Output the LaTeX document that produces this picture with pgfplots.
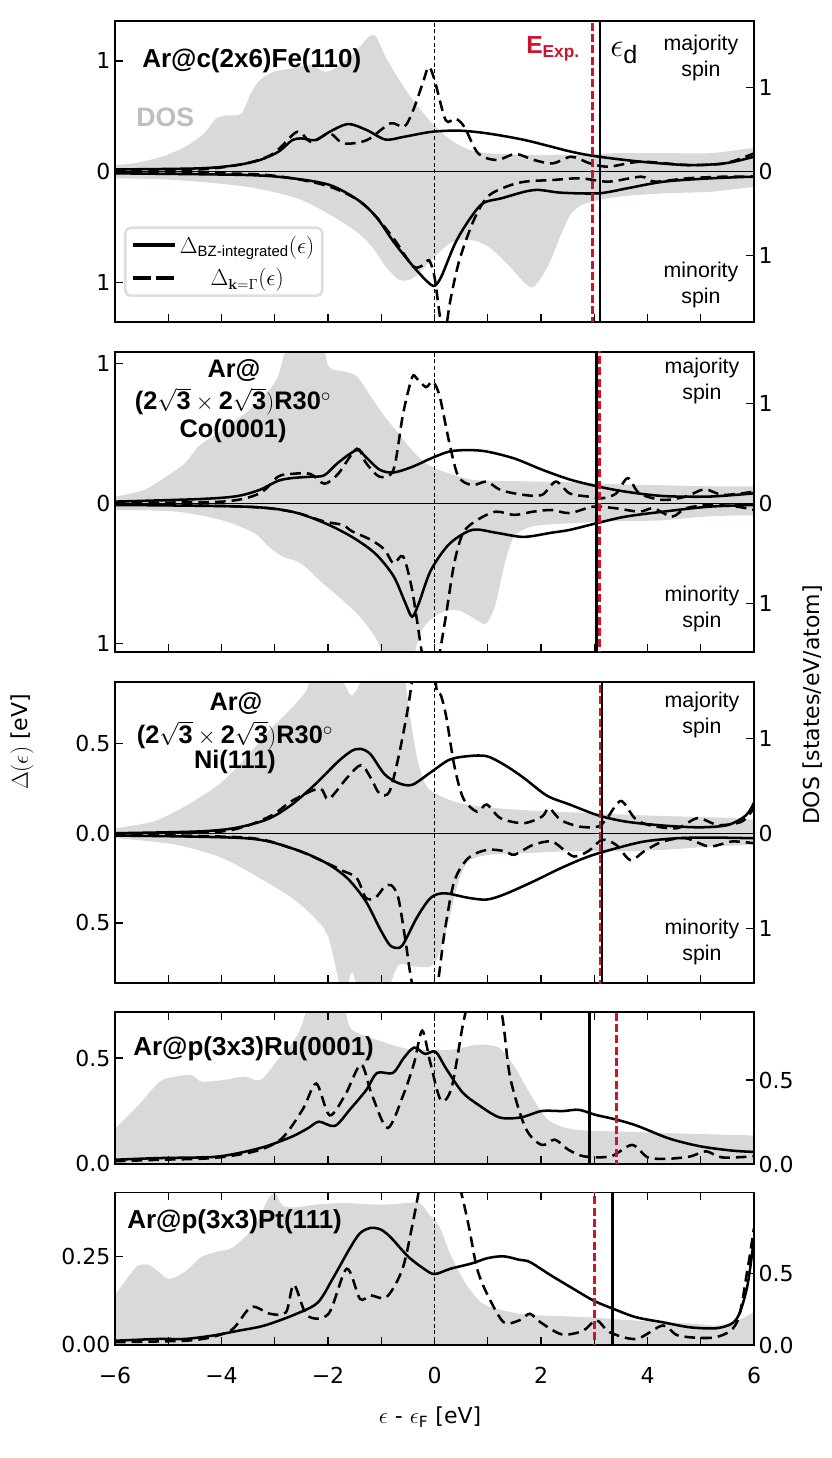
\documentclass[border=0pt]{standalone}
\usepackage{amsmath}
\usepackage[no-math]{fontspec}
\setmainfont{DejaVu Sans}
\newfontfamily\hel{Liberation Sans}
\usepackage{pgfplots}
\pgfplotsset{compat=1.18}

\definecolor{dosgray}{RGB}{216,217,219}
\definecolor{expred}{RGB}{204,20,46}
\definecolor{doslbl}{RGB}{190,190,192}
\definecolor{legframe}{RGB}{222,222,222}
\newcommand{\tfont}{\fontsize{16.5}{19}\selectfont}

\pgfplotsset{
  base/.style={scale only axis, width=479.25pt, xmin=-6, xmax=6, tick align=inside,
    major tick length=6pt, every tick/.style={black, line width=1.1pt},
    tick label style={font=\tfont}, clip=true},
  dosax/.style={base, axis x line=none, axis y line*=right, axis line style={-, line width=1.3pt}, ytick pos=right},
  delax/.style={base, axis line style={line width=1.3pt}, ytick pos=left, xtick={-6,...,6}, xticklabels={}},
  solL/.style={black, line width=1.9pt, smooth, tension=0.5},
  dasL/.style={black, line width=1.9pt, dash pattern=on 8pt off 4.5pt, smooth, tension=0.5},
  sol/.style={solL, forget plot},
  das/.style={dasL, forget plot},
  dosf/.style={fill=dosgray, draw=none, smooth, tension=0.5, forget plot},
  zl/.style={black, line width=0.9pt, forget plot},
  fl/.style={black, line width=0.7pt, dash pattern=on 3pt off 2pt, forget plot},
  ed/.style={black, line width=1.8pt, forget plot},
  ex/.style={expred, line width=2.2pt, dash pattern=on 6pt off 2.5pt, forget plot},
}

\begin{document}
\begin{tikzpicture}
\path[use as bounding box] (0pt,0pt) rectangle (623.25pt,1093.5pt);

%================ Panel 1 : Fe ================
\begin{axis}[dosax, at={(86.25pt,852.225pt)}, anchor=south west, height=225.75pt,
  ymin=-1.79, ymax=1.80, ytick={-1,0,1}, yticklabels={1,0,1}]
\addplot[dosf] coordinates {(-6,0.08) (-5.63,0.10) (-5.11,0.18) (-4.67,0.30) (-4.32,0.46) (-4.11,0.63) (-3.89,0.67) (-3.63,0.69) (-3.45,0.93) (-3.28,1.09) (-3.02,1.19) (-2.67,1.23) (-2.32,1.27) (-2.06,1.19) (-1.88,1.23) (-1.62,1.35) (-1.40,1.49) (-1.23,1.61) (-1.10,1.61) (-0.92,1.37) (-0.66,1.09) (-0.40,0.85) (-0.05,0.58) (0.30,0.38) (0.65,0.26) (1.00,0.22) (1.70,0.20) (2.57,0.20) (3.44,0.22) (4.31,0.22) (5.19,0.22) (5.71,0.26) (6,0.28)} \closedcycle;
\addplot[dosf] coordinates {(-6,-0.08) (-4.85,-0.10) (-3.54,-0.18) (-2.67,-0.30) (-2.23,-0.42) (-1.79,-0.58) (-1.44,-0.73) (-1.18,-0.89) (-0.92,-1.13) (-0.66,-1.29) (-0.40,-1.27) (-0.05,-1.05) (0.30,-0.85) (0.65,-0.81) (1.00,-0.89) (1.35,-1.09) (1.70,-1.33) (1.87,-1.37) (2.13,-1.13) (2.39,-0.73) (2.57,-0.50) (2.83,-0.38) (3.44,-0.30) (4.31,-0.26) (5.19,-0.24) (6,-0.18)} \closedcycle;
\end{axis}
\begin{axis}[delax, xtick pos=bottom, at={(86.25pt,852.225pt)}, anchor=south west, height=225.75pt,
  ymin=-1.354, ymax=1.363, ytick={-1,0,1}, yticklabels={1,0,1},
  legend cell align=center,
  legend style={at={(0.014,0.082)}, anchor=south west, draw=legframe, line width=2pt, rounded corners=4pt,
    fill=white, fill opacity=0.85, text opacity=1, font=\fontsize{16}{19}\selectfont, inner xsep=4pt, inner ysep=4pt, row sep=6pt}]
\addplot[zl] coordinates {(-6,0) (6,0)};
\addplot[fl] coordinates {(0,-2) (0,2)};
\addplot[solL, legend image code/.code={\draw[black, line width=3pt] (0pt,0pt) -- (32pt,0pt);}] coordinates {(-6,0.02) (-4.41,0.03) (-3.71,0.06) (-3.28,0.105) (-2.93,0.18) (-2.67,0.285) (-2.49,0.30) (-2.23,0.285) (-1.97,0.36) (-1.62,0.43) (-1.27,0.375) (-0.92,0.29) (-0.57,0.315) (-0.05,0.36) (0.47,0.37) (1.00,0.345) (1.70,0.285) (2.57,0.18) (3.09,0.135) (3.88,0.09) (4.75,0.06) (5.45,0.075) (6,0.135)};
\addlegendentry{$\Delta_{\text{\hel BZ-integrated}}(\epsilon)$}
\addplot[dasL, legend image code/.code={\draw[black, line width=3pt, dash pattern=on 13.5pt off 4pt] (0pt,0pt) -- (32pt,0pt);}] coordinates {(-6,0.015) (-4.41,0.02) (-3.54,0.075) (-3.02,0.165) (-2.58,0.36) (-2.32,0.27) (-1.97,0.345) (-1.71,0.255) (-1.27,0.285) (-0.83,0.435) (-0.57,0.405) (-0.40,0.555) (-0.22,0.80) (-0.11,0.945) (0.00,0.83) (0.21,0.465) (0.39,0.48) (0.56,0.405) (0.82,0.165) (1.17,0.105) (1.52,0.16) (1.87,0.105) (2.22,0.075) (2.57,0.135) (2.92,0.075) (3.27,0.045) (3.88,0.09) (4.75,0.06) (5.45,0.075) (6,0.165)};
\addlegendentry{$\Delta_{\mathbf{k}=\Gamma}(\epsilon)$}
\addplot[sol] coordinates {(-6,-0.015) (-3.54,-0.03) (-2.67,-0.06) (-1.97,-0.12) (-1.44,-0.255) (-1.10,-0.405) (-0.75,-0.645) (-0.40,-0.855) (-0.14,-0.99) (0.00,-1.03) (0.13,-0.945) (0.39,-0.645) (0.65,-0.435) (0.91,-0.285) (1.26,-0.24) (1.70,-0.18) (1.96,-0.165) (2.39,-0.19) (3.09,-0.195) (3.62,-0.15) (4.31,-0.09) (5.19,-0.06) (6,-0.045)};
\addplot[das] coordinates {(-6,-0.01) (-3.54,-0.02) (-2.67,-0.06) (-1.97,-0.135) (-1.44,-0.255) (-1.10,-0.405) (-0.75,-0.615) (-0.40,-0.855) (-0.20,-0.84) (-0.10,-0.80) (0.00,-0.95) (0.10,-1.3) (0.18,-1.5) (0.30,-1.155) (0.47,-0.795) (0.74,-0.435) (1.00,-0.225) (1.35,-0.135) (1.70,-0.09) (2.22,-0.075) (2.74,-0.06) (3.27,-0.09) (3.88,-0.045) (4.14,-0.09) (4.75,-0.06) (5.45,-0.045) (6,-0.045)};
\addplot[ed] coordinates {(3.11,-2) (3.11,2)};
\addplot[ex] coordinates {(2.96,-2) (2.96,2)};
\end{axis}

%================ Panel 2 : Co ================
\begin{axis}[dosax, at={(86.25pt,604.725pt)}, anchor=south west, height=225pt,
  ymin=-1.484, ymax=1.516, ytick={-1,0,1}, yticklabels={1,0,1}]
\addplot[dosf] coordinates {(-6,0.067) (-5.47,0.13) (-5.03,0.27) (-4.69,0.40) (-4.43,0.57) (-4.16,0.67) (-3.90,0.77) (-3.55,0.90) (-3.21,1.07) (-2.94,1.27) (-2.68,1.7) (-2.16,1.7) (-1.99,1.37) (-1.72,1.32) (-1.46,1.27) (-1.20,1.07) (-0.94,0.87) (-0.68,0.70) (-0.42,0.53) (-0.16,0.40) (0.10,0.33) (0.45,0.27) (0.80,0.23) (1.67,0.22) (2.54,0.21) (3.41,0.19) (4.29,0.18) (5.16,0.17) (6,0.17)} \closedcycle;
\addplot[dosf] coordinates {(-6,-0.067) (-4.86,-0.083) (-3.99,-0.17) (-3.38,-0.30) (-3.12,-0.43) (-2.86,-0.53) (-2.51,-0.60) (-2.16,-0.77) (-1.81,-0.93) (-1.46,-1.10) (-1.20,-1.27) (-1.03,-1.43) (-0.94,-1.7) (-0.51,-1.7) (-0.24,-1.27) (0.10,-1.10) (0.45,-1.07) (0.80,-1.17) (0.98,-1.20) (1.15,-1.00) (1.32,-0.60) (1.50,-0.33) (1.85,-0.23) (2.54,-0.20) (3.41,-0.18) (4.29,-0.17) (5.16,-0.13) (6,-0.12)} \closedcycle;
\end{axis}
\begin{axis}[delax, xtick pos=bottom, at={(86.25pt,604.725pt)}, anchor=south west, height=225pt,
  ymin=-1.06, ymax=1.083, ytick={-1,0,1}, yticklabels={1,0,1}]
\addplot[zl] coordinates {(-6,0) (6,0)};
\addplot[fl] coordinates {(0,-2) (0,2)};
\addplot[sol] coordinates {(-6,0.012) (-4.43,0.03) (-3.73,0.05) (-3.29,0.095) (-2.94,0.16) (-2.68,0.18) (-2.33,0.19) (-2.07,0.20) (-1.81,0.29) (-1.46,0.38) (-1.29,0.33) (-1.03,0.24) (-0.77,0.22) (-0.42,0.26) (-0.07,0.32) (0.28,0.37) (0.63,0.38) (0.98,0.37) (1.50,0.32) (2.02,0.24) (2.54,0.17) (3.07,0.12) (3.59,0.083) (4.29,0.052) (5.16,0.048) (6,0.071)};
\addplot[das] coordinates {(-6,0.005) (-3.99,0.012) (-3.29,0.07) (-2.94,0.19) (-2.68,0.21) (-2.33,0.21) (-2.07,0.14) (-1.81,0.21) (-1.46,0.39) (-1.29,0.29) (-1.03,0.19) (-0.77,0.24) (-0.59,0.64) (-0.42,0.90) (-0.33,0.89) (-0.16,0.83) (-0.03,0.87) (0.10,0.76) (0.28,0.43) (0.45,0.19) (0.71,0.13) (0.98,0.155) (1.24,0.095) (1.67,0.06) (2.02,0.06) (2.28,0.155) (2.54,0.07) (2.89,0.048) (3.15,0.036) (3.41,0.07) (3.63,0.18) (3.85,0.07) (4.29,0.024) (4.72,0.048) (5.07,0.10) (5.42,0.06) (6,0.083)};
\addplot[sol] coordinates {(-6,-0.012) (-3.55,-0.024) (-2.68,-0.06) (-2.07,-0.14) (-1.55,-0.24) (-1.11,-0.36) (-0.77,-0.52) (-0.55,-0.71) (-0.42,-0.81) (-0.29,-0.71) (-0.07,-0.48) (0.28,-0.29) (0.71,-0.19) (1.15,-0.21) (1.67,-0.24) (2.20,-0.21) (2.54,-0.19) (3.07,-0.14) (3.59,-0.095) (4.29,-0.06) (5.16,-0.024) (6,-0.012)};
\addplot[das] coordinates {(-6,-0.005) (-3.55,-0.024) (-2.68,-0.06) (-2.07,-0.13) (-1.72,-0.155) (-1.55,-0.20) (-1.20,-0.26) (-0.94,-0.33) (-0.77,-0.43) (-0.59,-0.38) (-0.42,-0.62) (-0.24,-1.06) (-0.16,-1.2) (0.02,-1.2) (0.19,-0.86) (0.37,-0.43) (0.54,-0.21) (0.80,-0.12) (1.15,-0.06) (1.50,-0.083) (1.85,-0.06) (2.20,-0.048) (2.54,-0.07) (2.98,-0.024) (3.41,-0.036) (3.85,-0.06) (4.11,-0.036) (4.46,-0.095) (4.72,-0.036) (5.16,-0.012) (5.68,-0.024) (6,-0.048)};
\addplot[ed] coordinates {(3.04,-2) (3.04,2)};
\addplot[ex] coordinates {(3.09,-2) (3.09,2)};
\end{axis}

%================ Panel 3 : Ni ================
\begin{axis}[dosax, at={(86.25pt,356.025pt)}, anchor=south west, height=225.75pt,
  ymin=-1.579, ymax=1.589, ytick={-1,0,1}, yticklabels={1,0,1}]
\addplot[dosf] coordinates {(-6,0.05) (-5.30,0.12) (-4.86,0.23) (-4.43,0.37) (-3.99,0.54) (-3.55,0.79) (-3.12,1.07) (-2.68,1.32) (-2.42,1.49) (-2.25,1.7) (-1.81,1.7) (-1.72,1.6) (-1.55,1.45) (-1.38,1.6) (-1.29,1.7) (-0.77,1.7) (-0.59,1.7) (-0.45,1.2) (-0.33,0.8) (-0.20,0.55) (-0.07,0.45) (0.28,0.35) (0.63,0.30) (1.24,0.26) (2.11,0.23) (2.98,0.21) (3.85,0.19) (4.72,0.175) (5.59,0.16) (6,0.14)} \closedcycle;
\addplot[dosf] coordinates {(-6,-0.05) (-4.86,-0.12) (-3.99,-0.26) (-3.29,-0.47) (-2.68,-0.68) (-2.25,-0.89) (-1.99,-1.1) (-1.72,-1.7) (-1.55,-1.46) (-1.38,-1.7) (-0.94,-1.7) (-0.68,-1.39) (-0.42,-1.4) (-0.07,-1.4) (0.10,-1.25) (0.28,-0.89) (0.45,-0.51) (0.63,-0.30) (0.98,-0.23) (1.67,-0.21) (2.54,-0.19) (3.41,-0.19) (4.29,-0.175) (5.16,-0.14) (6,-0.12)} \closedcycle;
\end{axis}
\begin{axis}[delax, xtick pos=bottom, at={(86.25pt,356.025pt)}, anchor=south west, height=225.75pt,
  ymin=-0.837, ymax=0.842, ytick={-0.5,0,0.5}, yticklabels={0.5,0.0,0.5}]
\addplot[zl] coordinates {(-6,0) (6,0)};
\addplot[fl] coordinates {(0,-2) (0,2)};
\addplot[sol] coordinates {(-6,0) (-4.43,0.01) (-3.73,0.03) (-3.12,0.08) (-2.68,0.16) (-2.25,0.27) (-1.81,0.40) (-1.55,0.46) (-1.38,0.47) (-1.20,0.44) (-0.94,0.33) (-0.68,0.28) (-0.42,0.27) (-0.07,0.34) (0.28,0.41) (0.63,0.43) (0.98,0.43) (1.32,0.38) (1.67,0.31) (2.11,0.21) (2.54,0.16) (3.07,0.10) (3.59,0.065) (4.29,0.043) (4.98,0.033) (5.51,0.046) (5.85,0.10) (6,0.17)};
\addplot[das] coordinates {(-6,-0.005) (-3.99,0.01) (-3.12,0.09) (-2.68,0.18) (-2.16,0.25) (-1.99,0.19) (-1.64,0.31) (-1.38,0.38) (-1.20,0.31) (-1.03,0.22) (-0.85,0.23) (-0.68,0.42) (-0.51,0.68) (-0.40,0.9) (-0.24,1.3) (-0.07,1.1) (0.04,0.8) (0.12,0.77) (0.22,0.65) (0.37,0.38) (0.54,0.195) (0.80,0.12) (0.98,0.16) (1.24,0.084) (1.67,0.056) (2.02,0.093) (2.15,0.14) (2.37,0.074) (2.72,0.037) (3.07,0.037) (3.24,0.084) (3.50,0.18) (3.76,0.084) (4.02,0.046) (4.55,0.028) (4.94,0.084) (5.33,0.046) (5.77,0.065) (6,0.14)};
\addplot[sol] coordinates {(-6,-0.013) (-3.55,-0.028) (-2.68,-0.084) (-2.07,-0.16) (-1.64,-0.25) (-1.29,-0.38) (-1.03,-0.53) (-0.85,-0.62) (-0.72,-0.64) (-0.59,-0.62) (-0.33,-0.47) (-0.07,-0.36) (0.19,-0.335) (0.63,-0.36) (0.98,-0.37) (1.32,-0.34) (1.85,-0.27) (2.37,-0.195) (2.89,-0.13) (3.41,-0.084) (3.94,-0.046) (4.55,-0.028) (5.16,-0.024) (6,-0.028)};
\addplot[das] coordinates {(-6,-0.01) (-3.55,-0.024) (-2.68,-0.084) (-2.07,-0.16) (-1.72,-0.21) (-1.46,-0.25) (-1.29,-0.36) (-1.11,-0.36) (-0.94,-0.30) (-0.81,-0.29) (-0.68,-0.36) (-0.55,-0.59) (-0.42,-0.84) (-0.24,-1.0) (-0.07,-1.0) (0.06,-0.84) (0.19,-0.55) (0.37,-0.27) (0.63,-0.14) (0.98,-0.093) (1.32,-0.10) (1.50,-0.12) (1.85,-0.065) (2.20,-0.046) (2.46,-0.10) (2.63,-0.13) (2.89,-0.10) (3.15,-0.037) (3.41,-0.065) (3.68,-0.15) (3.94,-0.10) (4.29,-0.046) (4.72,-0.028) (5.16,-0.074) (5.59,-0.046) (6,-0.056)};
\addplot[ex] coordinates {(3.11,-2) (3.11,2)};
\addplot[ed] coordinates {(3.14,-2) (3.14,2)};
\end{axis}

%================ Panel 4 : Ru ================
\begin{axis}[dosax, at={(86.25pt,220.5pt)}, anchor=south west, height=114pt,
  ymin=0, ymax=0.905, ytick={0,0.5}, yticklabels={0.0,0.5}]
\addplot[dosf] coordinates {(-6,0.21) (-5.56,0.35) (-5.16,0.49) (-4.87,0.52) (-4.57,0.53) (-4.37,0.49) (-3.97,0.50) (-3.57,0.52) (-3.27,0.50) (-2.97,0.61) (-2.57,0.77) (-2.27,1.0) (-1.77,1.0) (-1.58,0.81) (-1.18,0.75) (-0.58,0.69) (-0.18,0.68) (0.32,0.68) (0.82,0.71) (1.22,0.69) (1.52,0.57) (1.81,0.41) (2.11,0.27) (2.41,0.22) (2.81,0.20) (3.81,0.19) (4.81,0.18) (6,0.17)} \closedcycle;
\end{axis}
\begin{axis}[delax, xtick pos=both, at={(86.25pt,220.5pt)}, anchor=south west, height=114pt,
  ymin=0, ymax=0.718, ytick={0,0.5}, yticklabels={0.0,0.5}]
\addplot[fl] coordinates {(0,-2) (0,2)};
\addplot[sol] coordinates {(-6,0.02) (-5.16,0.028) (-4.17,0.033) (-3.67,0.052) (-3.17,0.083) (-2.67,0.13) (-2.37,0.17) (-2.17,0.20) (-1.87,0.18) (-1.58,0.26) (-1.28,0.35) (-1.08,0.43) (-0.78,0.43) (-0.58,0.50) (-0.38,0.55) (-0.18,0.52) (0.02,0.53) (0.22,0.45) (0.52,0.34) (0.82,0.28) (1.22,0.22) (1.62,0.22) (2.01,0.25) (2.41,0.25) (2.71,0.256) (3.01,0.233) (3.41,0.21) (3.81,0.18) (4.41,0.12) (5.00,0.083) (5.60,0.063) (6,0.057)};
\addplot[das] coordinates {(-6,0.013) (-5.16,0.02) (-4.17,0.028) (-3.37,0.06) (-2.87,0.12) (-2.47,0.26) (-2.22,0.38) (-1.97,0.23) (-1.67,0.33) (-1.38,0.47) (-1.18,0.33) (-0.88,0.17) (-0.58,0.33) (-0.38,0.48) (-0.23,0.63) (-0.08,0.48) (0.12,0.30) (0.32,0.36) (0.52,0.64) (0.62,0.75) (0.82,0.9) (1.07,0.85) (1.27,0.7) (1.42,0.41) (1.71,0.17) (2.01,0.09) (2.26,0.115) (2.51,0.068) (2.81,0.036) (3.31,0.036) (3.71,0.09) (4.01,0.031) (4.41,0.025) (4.81,0.036) (5.10,0.06) (5.40,0.031) (6,0.036)};
\addplot[ed] coordinates {(2.91,-2) (2.91,2)};
\addplot[ex] coordinates {(3.41,-2) (3.41,2)};
\end{axis}

%================ Panel 5 : Pt ================
\begin{axis}[dosax, at={(86.25pt,84.75pt)}, anchor=south west, height=114.375pt,
  ymin=0, ymax=1.063, ytick={0,0.5}, yticklabels={0.0,0.5}]
\addplot[dosf] coordinates {(-6,0.35) (-5.78,0.46) (-5.58,0.55) (-5.38,0.56) (-5.18,0.51) (-4.99,0.46) (-4.69,0.51) (-4.39,0.61) (-4.09,0.65) (-3.79,0.68) (-3.39,0.82) (-3.15,1.0) (-3.0,1.06) (-2.85,0.97) (-2.59,0.96) (-2.19,0.98) (-1.69,0.99) (-1.20,0.98) (-0.80,0.98) (-0.30,0.99) (-0.10,0.91) (0.10,0.82) (0.30,0.63) (0.60,0.42) (0.90,0.29) (1.30,0.24) (1.79,0.21) (2.79,0.195) (3.79,0.17) (4.79,0.15) (5.28,0.136) (5.68,0.17) (6,0.23)} \closedcycle;
\end{axis}
\begin{axis}[delax, xtick pos=both, at={(86.25pt,84.75pt)}, anchor=south west, height=114.375pt,
  ymin=0, ymax=0.43, ytick={0,0.25}, yticklabels={0.00,0.25},
  xticklabels={−6,,−4,,−2,,0,,2,,4,,6}, xticklabel style={yshift=-13pt}]
\addplot[fl] coordinates {(0,-2) (0,2)};
\addplot[sol] coordinates {(-6,0.012) (-5.18,0.017) (-4.69,0.017) (-4.19,0.026) (-3.69,0.04) (-3.19,0.055) (-2.59,0.088) (-2.19,0.12) (-1.90,0.19) (-1.60,0.27) (-1.40,0.315) (-1.20,0.33) (-1.00,0.325) (-0.80,0.30) (-0.50,0.25) (-0.20,0.215) (0,0.20) (0.30,0.215) (0.70,0.23) (1.00,0.245) (1.30,0.25) (1.60,0.24) (1.79,0.234) (2.19,0.196) (2.59,0.16) (2.99,0.125) (3.39,0.10) (3.79,0.078) (4.29,0.064) (4.79,0.05) (5.28,0.047) (5.58,0.06) (5.73,0.09) (5.88,0.17) (6,0.30)};
\addplot[das] coordinates {(-6,0.008) (-4.69,0.012) (-4.19,0.022) (-3.79,0.045) (-3.44,0.107) (-3.09,0.088) (-2.79,0.092) (-2.64,0.17) (-2.39,0.083) (-1.99,0.088) (-1.65,0.215) (-1.40,0.13) (-1.20,0.14) (-0.90,0.135) (-0.60,0.215) (-0.40,0.35) (-0.30,0.43) (-0.20,0.52) (0.30,0.52) (0.50,0.43) (0.65,0.33) (0.80,0.215) (1.00,0.14) (1.30,0.064) (1.60,0.07) (1.79,0.088) (1.99,0.064) (2.39,0.03) (2.79,0.04) (3.04,0.07) (3.29,0.036) (3.79,0.017) (4.29,0.055) (4.59,0.026) (5.28,0.022) (5.68,0.064) (5.88,0.215) (6,0.33)};
\addplot[ex] coordinates {(3.01,-2) (3.01,2)};
\addplot[ed] coordinates {(3.34,-2) (3.34,2)};
\end{axis}

%================ texts ================
\begin{scope}[x=0.75pt,y=-0.75pt,yshift=1093.5pt]
% panel 1
\node[anchor=base west,inner sep=0,font=\hel\bfseries\fontsize{19.5}{22}\selectfont] at (142,68) {Ar@c(2x6)Fe(110)};
\node[anchor=west,inner sep=0,text=doslbl,font=\hel\bfseries\fontsize{20}{22}\selectfont] at (136,117) {DOS};
\node[anchor=base west,inner sep=0,text=expred,font=\hel\bfseries\fontsize{18.5}{22}\selectfont] at (526,53.5) {E\textsubscript{Exp.}};
\node[anchor=base west,inner sep=0,font=\fontsize{27}{30}\selectfont] at (610,57) {$\epsilon_{\text{\hel d}}$};
\node[align=center,inner sep=0,font=\hel\fontsize{16}{19.5}\selectfont] at (701,58) {majority\\spin};
\node[align=center,inner sep=0,font=\hel\fontsize{16}{19.5}\selectfont] at (701,285) {minority\\spin};
% panel 2
\node[anchor=base,inner sep=0,font=\hel\bfseries\fontsize{19}{20}\selectfont] at (234,378) {Ar@};
\node[anchor=base,inner sep=0,font=\hel\bfseries\fontsize{19}{20}\selectfont] at (233,410) {($\textbf{2}\sqrt{\textbf{3}}\times\textbf{2}\sqrt{\textbf{3}})$R30$^{\circ}$};
\node[anchor=base,inner sep=0,font=\hel\bfseries\fontsize{19}{20}\selectfont] at (233,437.5) {Co(0001)};
\node[align=center,inner sep=0,font=\hel\fontsize{16}{19.5}\selectfont] at (702,381) {majority\\spin};
\node[align=center,inner sep=0,font=\hel\fontsize{16}{19.5}\selectfont] at (702,609) {minority\\spin};
% panel 3
\node[anchor=base,inner sep=0,font=\hel\bfseries\fontsize{19}{20}\selectfont] at (236,711) {Ar@};
\node[anchor=base,inner sep=0,font=\hel\bfseries\fontsize{19}{20}\selectfont] at (235,743.5) {($\textbf{2}\sqrt{\textbf{3}}\times\textbf{2}\sqrt{\textbf{3}})$R30$^{\circ}$};
\node[anchor=base,inner sep=0,font=\hel\bfseries\fontsize{19}{20}\selectfont] at (235,769) {Ni(111)};
\node[align=center,inner sep=0,font=\hel\fontsize{16}{19.5}\selectfont] at (702,715) {majority\\spin};
\node[align=center,inner sep=0,font=\hel\fontsize{16}{19.5}\selectfont] at (702,942) {minority\\spin};
% panel 4, 5
\node[anchor=base west,inner sep=0,font=\hel\bfseries\fontsize{19.5}{22}\selectfont] at (133,1056) {Ar@p(3x3)Ru(0001)};
\node[anchor=base west,inner sep=0,font=\hel\bfseries\fontsize{19.5}{22}\selectfont] at (127,1229) {Ar@p(3x3)Pt(111)};
% axis labels
\node[rotate=90,font=\tfont] at (22,742) {$\Delta(\epsilon)$ [eV]};
\node[rotate=90,font=\tfont] at (813,705) {DOS [states/eV/atom]};
\node[font=\tfont] at (430,1417) {$\epsilon$ - $\epsilon_{\text{F}}$ [eV]};
\end{scope}
\end{tikzpicture}
\end{document}
